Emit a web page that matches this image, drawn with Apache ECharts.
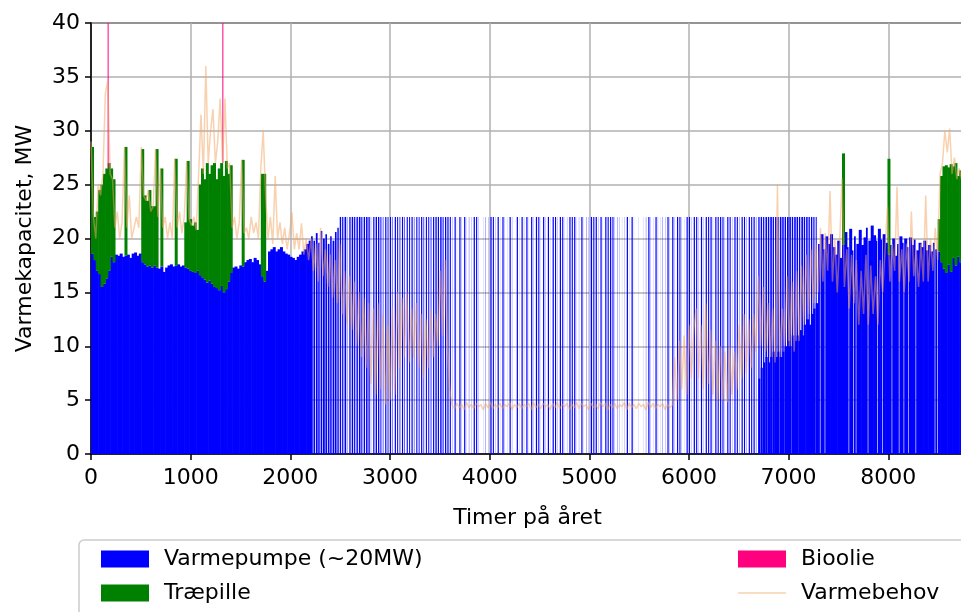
<!DOCTYPE html>
<html>
<head>
<meta charset="utf-8">
<script src="https://cdn.jsdelivr.net/npm/echarts@6/dist/echarts.min.js"></script>
<style>
html, body { margin: 0; padding: 0; background: #fff; }
#chart { width: 961px; height: 612px; }
</style>
</head>
<body>
<div id="chart"></div>
<script>
// one value per day of the year, day d = hours 24*d .. 24*d+24

// heat pump level running most of the day (MW)
var pumpMW = [
    18.6, 18.0, 17.0, 16.7, 15.5, 15.8, 16.3, 17.0, 18.3, 17.8,
    18.5, 18.4, 18.6, 18.3, 18.4, 18.5, 18.2, 18.6, 18.7, 18.4,
    18.6, 17.8, 17.6, 17.4, 17.5, 17.3, 17.5, 17.3, 17.2, 17.4,
    16.9, 17.3, 17.5, 17.6, 17.4, 17.5, 17.6, 17.4, 17.5, 17.3,
    17.2, 17.0, 16.9, 16.8, 17.0, 16.6, 16.4, 16.2, 15.9, 16.1,
    15.8, 15.5, 15.4, 15.2, 15.6, 15.0, 15.3, 16.0, 16.8, 17.3,
    17.4, 17.2, 17.5, 17.4, 17.8, 18.0, 18.1, 17.8, 18.2, 18.0,
    17.6, 16.5, 16.0, 17.0, 18.8, 19.0, 19.2, 18.8, 19.0, 19.2,
    18.8, 18.6, 18.5, 18.3, 18.2, 18.0, 18.3, 18.5, 18.8, 19.0,
    19.5, 19.8, 20.2, 19.8, 20.5, 19.6, 20.7, 20.0, 20.4, 19.5,
    20.2, 19.8, 20.6, 21.0, 0, 0, 0, 0, 0, 0,
    0, 0, 0, 0, 0, 0, 0, 0, 0, 0,
    0, 0, 0, 0, 0, 0, 0, 0, 0, 0,
    0, 0, 0, 0, 0, 0, 0, 0, 0, 0,
    0, 0, 0, 0, 0, 0, 0, 0, 0, 0,
    0, 0, 0, 0, 0, 0, 0, 0, 0, 0,
    0, 0, 0, 0, 0, 0, 0, 0, 0, 0,
    0, 0, 0, 0, 0, 0, 0, 0, 0, 0,
    0, 0, 0, 0, 0, 0, 0, 0, 0, 0,
    0, 0, 0, 0, 0, 0, 0, 0, 0, 0,
    0, 0, 0, 0, 0, 0, 0, 0, 0, 0,
    0, 0, 0, 0, 0, 0, 0, 0, 0, 0,
    0, 0, 0, 0, 0, 0, 0, 0, 0, 0,
    0, 0, 0, 0, 0, 0, 0, 0, 0, 0,
    0, 0, 0, 0, 0, 0, 0, 0, 0, 0,
    0, 0, 0, 0, 0, 0, 0, 0, 0, 0,
    0, 0, 0, 0, 0, 0, 0, 0, 0, 0,
    0, 0, 0, 0, 0, 0, 0, 0, 0, 7,
    8, 8.5, 9, 8.5, 9, 9.5, 9, 9.5, 9, 9.5,
    10, 10.5, 10, 11, 10.5, 11, 11.5, 11, 12, 12.5,
    12, 13, 13.5, 14, 19.5, 20.4, 19.0, 20.2, 19.5, 20.4,
    19.2, 18.5, 19.8, 18.2, 19.4, 20.6, 19.2, 20.9, 18.9, 20.2,
    19.5, 20.8, 19.4, 20.1, 21.0, 19.8, 21.2, 20.3, 19.8, 20.9,
    19.9, 20.4, 19.6, 18.5, 19.4, 20.0, 18.4, 19.5, 20.2, 19.6,
    20.0, 19.2, 20.1, 19.4, 19.9, 18.9, 19.6, 19.2, 19.8, 18.9,
    19.4, 18.8, 19.6, 19.0, 18.8, 17.8, 17.2, 16.8, 17.6, 16.9,
    18.2, 17.5, 18.3, 17.8, 18.0, 18.0
];

// hours per day at that level
var pumpHours = [
    24, 24, 24, 24, 24, 24, 24, 24, 24, 24,
    24, 24, 24, 24, 24, 24, 24, 24, 24, 24,
    24, 24, 24, 24, 24, 24, 24, 24, 24, 24,
    24, 24, 24, 24, 24, 24, 24, 24, 24, 24,
    24, 24, 24, 24, 24, 24, 24, 24, 24, 24,
    24, 24, 24, 24, 24, 24, 24, 24, 24, 24,
    24, 24, 24, 24, 24, 24, 24, 24, 24, 24,
    24, 24, 24, 24, 24, 24, 24, 24, 24, 24,
    24, 24, 24, 24, 24, 24, 24, 24, 24, 24,
    24, 24, 17, 16, 18, 15, 17, 18, 16, 17,
    15, 18, 16, 14, 0, 0, 0, 0, 0, 0,
    0, 0, 0, 0, 0, 0, 0, 0, 0, 0,
    0, 0, 0, 0, 0, 0, 0, 0, 0, 0,
    0, 0, 0, 0, 0, 0, 0, 0, 0, 0,
    0, 0, 0, 0, 0, 0, 0, 0, 0, 0,
    0, 0, 0, 0, 0, 0, 0, 0, 0, 0,
    0, 0, 0, 0, 0, 0, 0, 0, 0, 0,
    0, 0, 0, 0, 0, 0, 0, 0, 0, 0,
    0, 0, 0, 0, 0, 0, 0, 0, 0, 0,
    0, 0, 0, 0, 0, 0, 0, 0, 0, 0,
    0, 0, 0, 0, 0, 0, 0, 0, 0, 0,
    0, 0, 0, 0, 0, 0, 0, 0, 0, 0,
    0, 0, 0, 0, 0, 0, 0, 0, 0, 0,
    0, 0, 0, 0, 0, 0, 0, 0, 0, 0,
    0, 0, 0, 0, 0, 0, 0, 0, 0, 0,
    0, 0, 0, 0, 0, 0, 0, 0, 0, 0,
    0, 0, 0, 0, 0, 0, 0, 0, 0, 0,
    0, 0, 0, 0, 0, 0, 0, 0, 0, 20,
    21, 22, 22, 23, 22, 23, 24, 22, 24, 23,
    24, 24, 22, 24, 24, 23, 24, 24, 22, 24,
    24, 24, 23, 24, 18, 24, 18, 24, 24, 24,
    24, 24, 24, 24, 24, 24, 18, 24, 18, 18,
    24, 24, 24, 24, 18, 24, 24, 24, 18, 24,
    18, 24, 24, 24, 18, 24, 24, 18, 24, 18,
    24, 18, 24, 24, 18, 24, 24, 24, 24, 24,
    24, 24, 18, 18, 24, 24, 24, 24, 24, 24,
    24, 24, 24, 24, 24, 24
];

// hours per day at full capacity (22 MW), from day 104 to day 303
var peakStartDay = 104;
var peakHours = [
    14, 12, 16, 4, 13, 15, 12, 14, 16, 11,
    14, 15, 13, 3, 12, 14, 13, 10, 6, 12,
    9, 11, 5, 12, 10, 8, 12, 6, 11, 10,
    12, 5, 11, 9, 12, 7, 11, 10, 8, 12,
    13, 12, 14, 10, 13, 12, 11, 2, 12, 1,
    12, 2, 12, 1, 3, 2, 12, 11, 2, 0,
    1, 3, 2, 12, 11, 2, 12, 1, 12, 2,
    1, 12, 2, 0, 12, 1, 12, 2, 12, 1,
    12, 2, 12, 11, 1, 12, 2, 12, 1, 12,
    11, 2, 12, 11, 1, 2, 12, 11, 12, 1,
    2, 12, 1, 3, 2, 12, 11, 12, 2, 12,
    1, 12, 11, 12, 11, 2, 3, 2, 1, 2,
    12, 1, 12, 1, 0, 1, 0, 1, 3, 12,
    2, 1, 12, 2, 1, 3, 2, 12, 2, 12,
    2, 12, 11, 2, 1, 12, 11, 2, 12, 11,
    2, 12, 2, 12, 11, 12, 2, 12, 11, 12,
    11, 2, 12, 11, 2, 12, 11, 3, 12, 11,
    3, 12, 11, 12, 4, 13, 14, 12, 15, 14,
    16, 13, 15, 14, 16, 15, 14, 16, 15, 14,
    16, 15, 13, 16, 14, 15, 13, 14, 12, 10
];
var peakMW = 22;

// wood pellets on top of the heat pump (MW)
var pelletJan = [
    9.9, 4, 5.5, 7.8, 9.5, 10.2, 10.2, 10, 8.2, 7.7,
    0, 0, 0, 0, 10.1, 0, 0, 0, 0, 0,
    0, 10.5, 6.4, 6.1, 7, 5.7, 5.5, 11, 0, 9.1,
    0, 0, 0, 0, 0, 9.9, 0, 0, 0, 4.2,
    10, 4.8, 4.3, 4.7, 3.8, 8.4, 10.1, 9.3, 11.1, 9.9,
    11, 11.5, 10.1, 11.3, 11.4, 10.8, 11.9, 10, 10, 0,
    0, 0, 0, 9.9, 0, 0, 0, 0, 0, 0,
    0, 9.5, 10
];
var pelletDecStartDay = 354;
var pelletDec = [3, 8, 9.5, 10, 9, 10, 8.5, 9.5, 7.5, 8.5, 7.5, 7.5];
var pelletAutumn = [[314, 8.5], [333, 8.9]];   // [day, MW]

// bio oil peaks: [hour, MW]
var oilPeaks = [[167, 18], [1318, 20]];

// heat demand (MW)
var demand = [
    29, 22, 20, 25, 24, 26, 33.5, 34.6, 26, 25.5,
    21, 22.5, 20, 21.5, 28.5, 21, 24, 20, 21, 22,
    21, 28.5, 24, 23.5, 24.5, 22.5, 23, 28.3, 22, 26.5,
    21, 22, 20, 21.5, 20, 27.4, 21, 22.5, 20.5, 22,
    27.2, 21.8, 21.2, 22, 20.8, 26, 31.5, 26, 36, 27,
    30, 32, 27, 29, 33, 27, 33, 26.5, 27, 21,
    22, 20, 21.5, 27.3, 20.5, 21, 20, 22, 20.5, 21.5,
    20, 26.5, 30, 24, 20, 22, 19.5, 25.8, 20, 21.5,
    19.5, 21, 19, 20.5, 22.4, 19, 20.5, 19, 21.4, 18.5,
    20, 18, 20, 17, 19.5, 16, 21, 16.5, 19, 15.5,
    18.5, 14.5, 18, 14, 19.5, 13, 17, 12, 16.5, 11.5,
    16, 10, 15, 9, 14.5, 8, 14, 6.5, 13.5, 5.5,
    14, 6, 13, 4.6, 12, 5, 13.5, 5.5, 15, 8,
    14.5, 9, 15, 8.5, 13.5, 9, 14, 8, 13, 7,
    12.5, 8, 13.5, 9, 13, 10, 17, 11, 18, 10,
    6, 4.5, 4.2, 4.7, 4.3, 4.6, 4.1, 4.8, 4.3, 4.6,
    4.2, 4.7, 4.4, 4.6, 4.1, 4.7, 4.3, 4.8, 4.2, 4.6,
    4.3, 4.7, 4.2, 4.6, 4.4, 4.8, 4.1, 4.6, 4.3, 4.7,
    4.2, 4.6, 4.4, 4.7, 4.1, 4.8, 4.3, 4.6, 4.2, 4.7,
    4.4, 4.6, 4.1, 4.7, 4.3, 4.8, 4.2, 4.6, 4.4, 4.7,
    4.1, 4.6, 4.3, 4.8, 4.2, 4.7, 4.4, 4.6, 4.1, 4.7,
    4.3, 4.6, 4.2, 4.8, 4.4, 4.7, 4.1, 4.6, 4.3, 4.7,
    4.2, 4.6, 4.4, 4.8, 4.1, 4.7, 4.3, 4.6, 4.2, 4.7,
    4.4, 4.6, 4.1, 4.8, 4.3, 4.7, 4.2, 4.6, 4.4, 4.7,
    4.1, 4.6, 4.3, 4.5, 9, 5, 10.5, 6, 11, 5.5,
    12, 7, 11.5, 13.5, 7, 12, 6, 14, 6.5, 11.5,
    5.5, 10.5, 5, 10, 5, 9.5, 4.8, 10, 5.5, 9.5,
    6, 12, 7, 13, 7.5, 12.5, 8, 13, 9.5, 16.5,
    10, 15.5, 9.5, 14, 9, 13.5, 8.5, 25, 9, 13.5,
    10, 16.5, 10, 16, 9.5, 17, 10.5, 17.5, 12, 18.5,
    13, 19, 14, 19.5, 15, 21, 16, 20.5, 17, 24.4,
    16, 20, 15, 19.5, 25.6, 15.5, 19, 13.5, 18.5, 14,
    18, 12, 17, 13, 18.5, 12, 17.5, 13, 16.5, 12,
    18, 15, 19, 23, 16, 19.5, 17, 24.8, 16, 19,
    15, 19.5, 16, 22.5, 16.5, 19, 15.5, 19.5, 16, 24,
    16, 20, 17, 21, 18, 26, 27, 30, 28, 30.2,
    26, 27.5, 25.5, 26.5, 25.5, 26
];

var FONT = 'DejaVu Sans';

function pelletOn(d) {
    if (d < pelletJan.length) return pelletJan[d];
    if (d >= pelletDecStartDay) return pelletDec[d - pelletDecStartDay] || 0;
    for (var i = 0; i < pelletAutumn.length; i++) {
        if (pelletAutumn[i][0] == d) return pelletAutumn[i][1];
    }
    return 0;
}

var pumpData = [], pelletData = [], oilData = [], demandData = [];
for (var d = 0; d < pumpMW.length; d++) {
    var k = d - peakStartDay;
    var peak = (k >= 0 && k < peakHours.length) ? peakHours[k] : 0;
    pumpData.push([d * 24, pumpMW[d], pumpHours[d], peak]);
    var p = pelletOn(d);
    if (p > 0) pelletData.push([d * 24, pumpMW[d], pumpMW[d] + p]);
    demandData.push([d * 24, demand[d]]);
}
oilPeaks.forEach(function (o) {
    var day = Math.floor(o[0] / 24);
    var base = pumpMW[day] + pelletOn(day);
    oilData.push([o[0], base, base + o[1]]);
});

// rectangle between two hours and two levels, clipped to the plot
function hourRect(params, api, h0, h1, y0, y1, closeSeam) {
    var a = api.coord([h0, y0]);
    var b = api.coord([h1, y1]);
    var cs = params.coordSys;
    return echarts.graphic.clipRectByRect(
        { x: a[0], y: b[1], width: b[0] - a[0] + (closeSeam ? 0.6 : 0), height: a[1] - b[1] },
        { x: cs.x, y: cs.y, width: cs.width, height: cs.height });
}

var chart = echarts.init(document.getElementById('chart'));

var legendText = { fontFamily: FONT, fontSize: 22, color: '#000', padding: [0, 0, 0, 10] };

var option = {
    animation: false,
    backgroundColor: '#fff',
    grid: {
        left: 91, right: -3, top: 23, bottom: 158,
        show: true, borderColor: '#000', borderWidth: 1.5,
        containLabel: false, outerBoundsMode: 'none'
    },
    xAxis: {
        type: 'value', min: 0, max: 8760, interval: 1000,
        name: 'Timer på året', nameLocation: 'middle', nameGap: 53,
        nameTextStyle: { fontFamily: FONT, fontSize: 22, color: '#000' },
        axisLine: { lineStyle: { color: '#000', width: 1.5 } },
        axisTick: { show: true, length: 6, lineStyle: { color: '#000', width: 1.5 } },
        axisLabel: {
            fontFamily: FONT, fontSize: 22, color: '#000', margin: 13, showMaxLabel: false,
            formatter: function (v) { return String(v); }
        },
        splitLine: { show: true, lineStyle: { color: '#b0b0b0', width: 1.5 } }
    },
    yAxis: {
        type: 'value', min: 0, max: 40, interval: 5,
        name: 'Varmekapacitet, MW', nameLocation: 'middle', nameGap: 55,
        nameTextStyle: { fontFamily: FONT, fontSize: 22, color: '#000' },
        axisLine: { show: true, lineStyle: { color: '#000', width: 1.5 } },
        axisTick: { show: true, length: 6, lineStyle: { color: '#000', width: 1.5 } },
        axisLabel: { fontFamily: FONT, fontSize: 22, color: '#000', margin: 11 },
        splitLine: { show: true, lineStyle: { color: '#b0b0b0', width: 1.5 } }
    },
    legend: [{
        data: [{ name: 'Varmepumpe (~20MW)', icon: 'rect' }, { name: 'Træpille', icon: 'rect' }],
        orient: 'vertical', left: 96, top: 543, itemWidth: 48, itemHeight: 17, itemGap: 12,
        textStyle: legendText
    }, {
        data: [
            { name: 'Bioolie', icon: 'rect' },
            { name: 'Varmebehov', icon: 'path://M0,0 H48 V1.5 H0 Z' }
        ],
        orient: 'vertical', left: 733, top: 543, itemWidth: 48, itemHeight: 17, itemGap: 12,
        textStyle: legendText
    }],
    graphic: [{
        type: 'rect', z: 0, silent: true,
        shape: { x: 79, y: 540, width: 900, height: 100, r: 5 },
        style: { fill: '#fff', stroke: '#cccccc', lineWidth: 1.5 }
    }],
    series: [{
        name: 'Varmepumpe (~20MW)',
        type: 'custom',
        itemStyle: { color: '#0000ff' },
        encode: { x: 0, y: 1 },
        data: pumpData,
        renderItem: function (params, api) {
            var h0 = api.value(0), level = api.value(1), hrs = api.value(2), peak = api.value(3);
            var color = api.visual('color');
            var kids = [];
            if (level > 0 && hrs > 0) {
                var r = hourRect(params, api, h0, h0 + hrs, 0, level, hrs >= 24);
                if (r) kids.push({ type: 'rect', shape: r, style: { fill: color } });
            }
            if (peak > 0) {
                var r2 = hourRect(params, api, h0, h0 + peak, 0, peakMW, false);
                if (r2) kids.push({ type: 'rect', shape: r2, style: { fill: color } });
            }
            return { type: 'group', children: kids };
        }
    }, {
        name: 'Træpille',
        type: 'custom',
        itemStyle: { color: '#008000' },
        encode: { x: 0, y: 2 },
        data: pelletData,
        renderItem: function (params, api) {
            var h0 = api.value(0);
            var r = hourRect(params, api, h0, h0 + 24, api.value(1), api.value(2), true);
            if (!r) return;
            return { type: 'rect', shape: r, style: { fill: api.visual('color') } };
        }
    }, {
        name: 'Bioolie',
        type: 'custom',
        itemStyle: { color: '#ff007f' },
        encode: { x: 0, y: 2 },
        data: oilData,
        renderItem: function (params, api) {
            var h0 = api.value(0);
            var r = hourRect(params, api, h0, h0 + 10, api.value(1), api.value(2), false);
            if (!r) return;
            return { type: 'rect', shape: r, style: { fill: api.visual('color') } };
        }
    }, {
        name: 'Varmebehov',
        type: 'line',
        data: demandData,
        showSymbol: false,
        symbol: 'none',
        lineStyle: { color: 'rgba(244,164,96,0.5)', width: 1.5 },
        itemStyle: { color: 'rgba(244,164,96,0.5)' },
        z: 5
    }]
};

chart.setOption(option);
</script>
</body>
</html>
